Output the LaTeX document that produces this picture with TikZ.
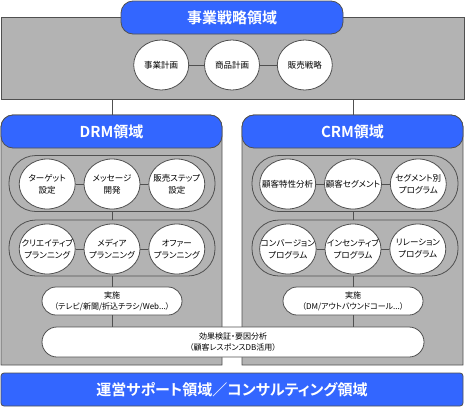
\documentclass[tikz,border=0pt]{standalone}
\usepackage{fontspec}
\setmainfont{Noto Sans CJK JP}[RawFeature=+palt, BoldFont={Noto Sans CJK JP Bold}]
\usetikzlibrary{shapes.geometric, positioning}
\definecolor{hdrblue}{RGB}{51,102,255}
\definecolor{areagray}{RGB}{179,179,179}
\definecolor{linegray}{RGB}{80,80,80}
\tikzset{
  area/.style={rectangle, draw=linegray, fill=areagray, line width=0.8pt},
  hdr/.style={rectangle, draw=linegray, fill=hdrblue, text=white,
    font=\bfseries\fontsize{15}{15}\selectfont, rounded corners=12pt,
    line width=0.8pt},
  capsule/.style={rectangle, draw=linegray, fill=areagray, rounded corners=27pt,
    minimum width=206pt, minimum height=56pt, line width=0.8pt},
  task/.style={ellipse, draw=linegray, fill=white, minimum width=56pt,
    minimum height=50pt, inner xsep=-7pt, inner ysep=0pt, align=center,
    font=\fontsize{8.5}{12}\selectfont, line width=0.8pt},
  exec/.style={rectangle, draw=linegray, fill=white, rounded corners=14pt,
    minimum height=28pt, align=center, font=\fontsize{8}{11}\selectfont,
    line width=0.8pt},
  conn/.style={draw=linegray, line width=0.8pt}
}
\begin{document}
\begin{tikzpicture}[x=1pt, y=-1pt, node distance=8pt]
  \useasboundingbox (0,0) rectangle (465,407);
  % 事業戦略領域
  \node[area, minimum width=463pt, minimum height=82pt] (strat) at (232.5,58) {};
  \node[hdr, minimum width=222pt, minimum height=33pt] (strathdr) at (232,17.5) {事業戦略領域};
  \node[task, minimum width=55pt] (s2) at (232,65) {商品計画};
  \node[task, minimum width=55pt, left=15pt of s2] (s1) {事業計画};
  \node[task, minimum width=55pt, right=17pt of s2] (s3) {販売戦略};
  \draw[conn] (s1) -- (s2);
  \draw[conn] (s2) -- (s3);

  % DRM / CRM areas
  \draw[area] (1,365) -- (1,127) arc[start angle=180, end angle=90, radius=12pt]
    -- (210,115) arc[start angle=90, end angle=0, radius=12pt] -- (222,365) -- cycle;
  \draw[area] (242,365) -- (242,127) arc[start angle=180, end angle=90, radius=12pt]
    -- (451,115) arc[start angle=90, end angle=0, radius=12pt] -- (463,365) -- cycle;
  \node[hdr, minimum width=221pt, minimum height=33pt] (drmhdr) at (111.5,131.5) {DRM領域};
  \node[hdr, minimum width=221pt, minimum height=33pt] (crmhdr) at (352.5,131.5) {CRM領域};

  % DRM
  \node[capsule] (drmg1) at (112,183.5) {};
  \node[capsule] (drmg2) at (112,248) {};
  \node[task] (d2) at (112,184) {メッセージ\\開発};
  \node[task, left=of d2] (d1) {ターゲット\\設定};
  \node[task, right=of d2] (d3) {販売ステップ\\設定};
  \node[task] (d5) at (112,249) {メディア\\プランニング};
  \node[task, left=of d5] (d4) {クリエイティブ\\プランニング};
  \node[task, right=of d5] (d6) {オファー\\プランニング};
  \node[exec, minimum width=140pt] (drmexec) at (112,301) {実施\\（テレビ/新聞/折込チラシ/Web...）};

  % CRM
  \node[capsule] (crmg1) at (355,183.5) {};
  \node[capsule] (crmg2) at (355,248) {};
  \node[task] (c2) at (353,184) {顧客セグメント};
  \node[task, left=of c2] (c1) {顧客特性分析};
  \node[task, right=of c2] (c3) {セグメント別\\プログラム};
  \node[task] (c5) at (353,249) {インセンティブ\\プログラム};
  \node[task, left=of c5] (c4) {コンバージョン\\プログラム};
  \node[task, right=of c5] (c6) {リレーション\\プログラム};
  \node[exec, minimum width=140pt] (crmexec) at (353,301) {実施\\（DM/アウトバウンドコール...）};

  % 効果検証
  \node[exec, minimum width=382pt, minimum height=30pt, rounded corners=15pt] (eval) at (233,342)
    {効果検証・要因分析\\（顧客レスポンスDB活用）};

  % connectors
  \draw[conn] (d2 |- strat.south) -- (d2 |- drmhdr.north);
  \draw[conn] (c2 |- strat.south) -- (c2 |- crmhdr.north);
  \foreach \a/\b in {d1/d2, d2/d3, d4/d5, d5/d6, c1/c2, c2/c3, c4/c5, c5/c6}
    \draw[conn] (\a) -- (\b);
  \draw[conn] (d2 |- drmg1.south) -- (d2 |- drmg2.north);
  \draw[conn] (d5 |- drmg2.south) -- (drmexec.north);
  \draw[conn] (drmexec.south) -- (drmexec.south |- eval.north);
  \draw[conn] (c2 |- crmg1.south) -- (c2 |- crmg2.north);
  \draw[conn] (c5 |- crmg2.south) -- (crmexec.north);
  \draw[conn] (crmexec.south) -- (crmexec.south |- eval.north);

  % 運営サポート領域
  \node[hdr, rounded corners=3pt, minimum width=462pt, minimum height=33pt] (support) at (232,389.5)
    {運営サポート領域／コンサルティング領域};
\end{tikzpicture}
\end{document}
